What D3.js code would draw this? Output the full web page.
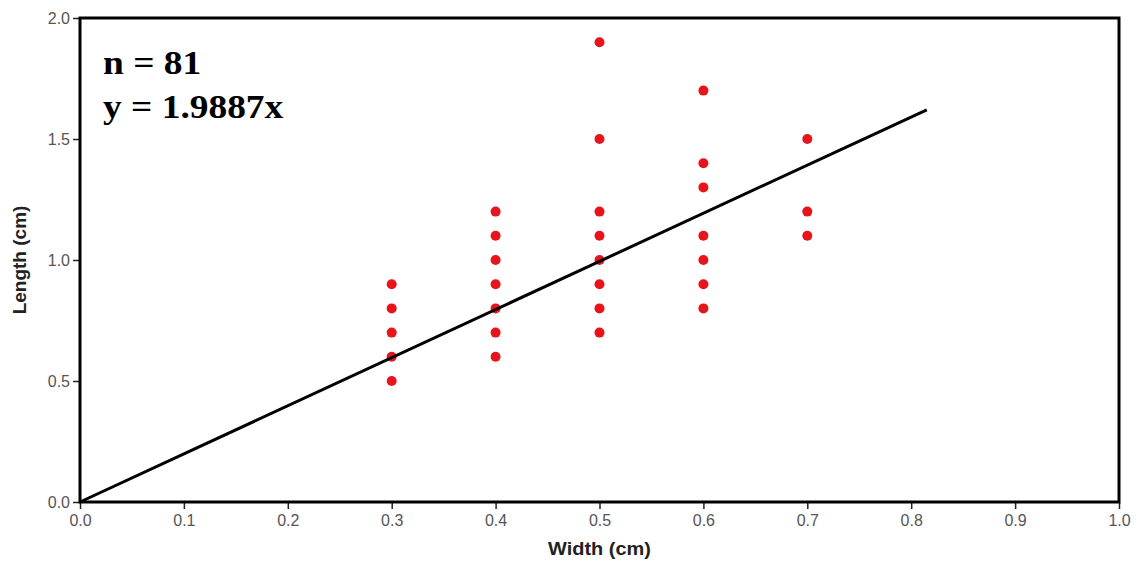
<!DOCTYPE html>
<html>
<head>
<meta charset="utf-8">
<script src="https://cdn.jsdelivr.net/npm/d3@7"></script>
<style>
    body { margin: 0; background: #fff; }
    svg { display: block; }
</style>
</head>
<body>
<div id="chart"></div>
<script>
// widths (cm) of each column of points and the lengths seen at that width
const widths = [0.3, 0.4, 0.5, 0.6, 0.7];
const lengthsByWidth = [
    [0.5, 0.6, 0.7, 0.8, 0.9],
    [0.6, 0.7, 0.8, 0.9, 1.0, 1.1, 1.2],
    [0.7, 0.8, 0.9, 1.0, 1.1, 1.2, 1.5, 1.9],
    [0.8, 0.9, 1.0, 1.1, 1.3, 1.4, 1.7],
    [1.1, 1.2, 1.5]
];
const xTicks = [0, 0.1, 0.2, 0.3, 0.4, 0.5, 0.6, 0.7, 0.8, 0.9, 1.0];
const yTicks = [0, 0.5, 1.0, 1.5, 2.0];
const slope = 1.9887;
const lineEndX = 0.815;
const sampleSize = 81;

const width = 1138;
const height = 563;
const margin = { top: 18, right: 19, bottom: 61, left: 80 };

const points = [];
widths.forEach((w, i) => {
    lengthsByWidth[i].forEach(l => points.push({ x: w, y: l }));
});

const svg = d3.select("#chart")
    .append("svg")
    .attr("width", width)
    .attr("height", height);

const x = d3.scaleLinear().domain([0, 1]).range([margin.left, width - margin.right]);
const y = d3.scaleLinear().domain([0, 2]).range([height - margin.bottom, margin.top]);

const sans = "Arial, 'Liberation Sans', sans-serif";

// axes
const xAxis = svg.append("g")
    .attr("transform", `translate(0,${height - margin.bottom})`)
    .call(d3.axisBottom(x).tickValues(xTicks).tickFormat(d3.format(".1f")).tickSize(7).tickSizeOuter(0));
const yAxis = svg.append("g")
    .attr("transform", `translate(${margin.left},0)`)
    .call(d3.axisLeft(y).tickValues(yTicks).tickFormat(d3.format(".1f")).tickSize(7).tickSizeOuter(0));

[xAxis, yAxis].forEach(a => {
    a.select(".domain").remove();
    a.selectAll(".tick line").attr("stroke", "#222").attr("stroke-width", 1.5);
    a.selectAll(".tick text")
        .attr("fill", "#555")
        .style("font-family", sans)
        .style("font-size", "16px");
});
xAxis.selectAll(".tick text").attr("y", 10).attr("dy", "0.85em");
yAxis.selectAll(".tick text").attr("x", -10);

// points
svg.append("g")
    .selectAll("circle")
    .data(points)
    .enter()
    .append("circle")
    .attr("cx", d => x(d.x))
    .attr("cy", d => y(d.y))
    .attr("r", 5)
    .attr("fill", "#e8141c");

// regression line through origin
svg.append("line")
    .attr("x1", x(0))
    .attr("y1", y(0))
    .attr("x2", x(lineEndX))
    .attr("y2", y(slope * lineEndX))
    .attr("stroke", "#000")
    .attr("stroke-width", 3);

// frame
svg.append("rect")
    .attr("x", margin.left)
    .attr("y", margin.top)
    .attr("width", width - margin.left - margin.right)
    .attr("height", height - margin.top - margin.bottom)
    .attr("fill", "none")
    .attr("stroke", "#000")
    .attr("stroke-width", 3);

// annotation
const note = svg.append("g")
    .attr("transform", "translate(103,0) scale(1.1,1)")
    .style("font-family", "'Liberation Serif', 'Times New Roman', serif")
    .style("font-weight", "bold")
    .style("font-size", "34px")
    .attr("fill", "#000");
note.append("text").attr("x", 0).attr("y", 74).text(`n = ${sampleSize}`);
note.append("text").attr("x", 0).attr("y", 118).text(`y = ${slope}x`);

// axis titles
svg.append("text")
    .attr("transform", `translate(${x(0.5)},555) scale(1.05,1)`)
    .attr("text-anchor", "middle")
    .style("font-family", sans)
    .style("font-weight", "bold")
    .style("font-size", "19px")
    .attr("fill", "#222")
    .text("Width (cm)");

svg.append("text")
    .attr("transform", `translate(26,${y(1)}) rotate(-90)`)
    .attr("text-anchor", "middle")
    .style("font-family", sans)
    .style("font-weight", "bold")
    .style("font-size", "19px")
    .attr("fill", "#222")
    .text("Length (cm)");
</script>
</body>
</html>
